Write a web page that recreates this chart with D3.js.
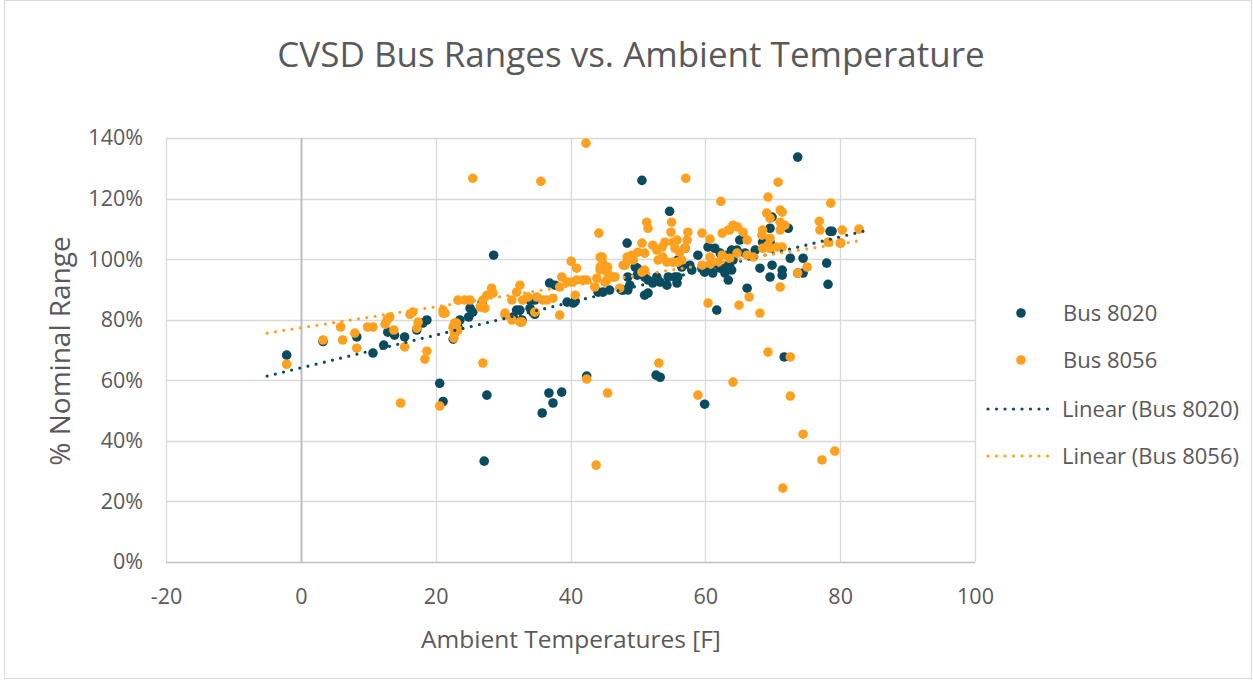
<!DOCTYPE html>
<html>
<head>
<meta charset="utf-8">
<script src="https://cdn.jsdelivr.net/npm/d3@7"></script>
<style>
  body { margin: 0; background: #fff; }
  text { font-family: "Segoe UI", "Open Sans", "Noto Sans", sans-serif; fill: #595959; }
</style>
</head>
<body>
<div id="chart"></div>
<script>
// data: [temperature F, % nominal range]
var bus8020 = [
  [-2.1,68.3],[3.3,72.8],[8.3,74.3],[10.7,69],[12.3,71.6],[12.9,75.9],[13.9,74.9],[15.4,74.3],[17.2,76.6],
  [18.1,78.9],[18.7,79.9],[20.6,59],[21.1,53],[22.6,73.6],[22.8,75.6],[23.3,77.6],[23.6,79.9],[24.9,80.9],
  [25.1,83.8],[25.5,82.5],[26.9,85.8],[27.2,33.3],[27.6,55.1],[28.6,101.3],[31.5,80.9],[32.0,83.2],[32.5,83.2],
  [32.8,79.9],[34.0,86.5],[34.7,86.5],[34.0,83.8],[34.4,82.5],[34.7,81.8],[35.8,49.2],[36.8,55.8],[36.9,92.1],
  [37.4,52.5],[37.7,91.4],[38.7,56.1],[39.5,85.8],[40.4,85.5],[40.7,86.1],[42.4,61.4],[44.1,89.1],[44.8,89.1],
  [45.8,89.8],[47.6,89.8],[47.8,89.8],[48.4,105.3],[48.5,94.1],[48.5,89.8],[48.8,91.4],[49.6,97.4],[49.9,94.7],
  [49.9,97],[50.6,126],[51.0,94.1],[51.0,88.1],[51.5,93.1],[51.5,88.8],[52.2,92.1],[52.7,61.7],[53.3,61],
  [52.8,94.1],[53.3,92.4],[54.3,91.4],[54.5,94.1],[54.7,115.8],[55.5,94.1],[55.8,92.1],[55.9,94.1],[55.9,99.7],
  [56.5,97.4],[57.0,103.6],[57.7,98],[58.0,96.4],[58.9,101.3],[59.5,97],[59.9,95.7],[59.9,52.1],[60.4,104],
  [60.7,97.4],[61.1,95.4],[61.4,103.6],[61.7,83.2],[62.2,102],[62.2,97],[62.9,95.4],[63.2,101.3],[63.4,98],
  [63.4,93.1],[63.6,97.4],[63.9,103],[63.9,96.4],[64.1,99.7],[64.7,103],[65.1,106.3],[65.6,106.9],[65.9,102],
  [66.2,90.4],[67.4,103],[68.1,97],[68.5,105.6],[69.6,110.2],[69.6,105.6],[69.6,94.1],[69.9,113.9],[69.9,98],
  [71.4,96.4],[71.4,94.7],[71.7,67.7],[72.3,110.2],[72.6,100.3],[73.7,133.7],[73.7,95.4],[74.5,100.3],[74.5,95.4],
  [78.0,98.7],[78.2,91.7],[78.5,109.2],[78.8,109.2]
];
var bus8056 = [
  [-2.1,65.3],[3.3,73.3],[5.9,77.6],[6.2,73.3],[8.0,75.6],[8.3,70.6],[9.9,77.6],[10.7,77.6],[12.5,78.5],
  [12.8,79.9],[13.2,80.9],[13.8,76.6],[14.8,52.5],[15.4,71],[16.2,81.8],[16.6,82.5],[17.2,77.2],[17.4,79.2],
  [18.4,67],[18.7,69.6],[20.6,51.5],[21.1,82.2],[21.1,83.2],[21.4,82.2],[22.6,77.6],[22.6,77.2],[22.7,73.9],
  [22.8,75.6],[22.8,78.9],[23.1,78.9],[23.3,76.6],[23.3,86.5],[24.3,86.5],[25.1,86.5],[25.5,126.7],[26.6,84.2],
  [27.0,86.5],[27.0,65.7],[27.3,83.8],[27.6,88.1],[28.3,90.4],[28.5,88.8],[30.3,81.5],[30.3,82.2],[31.3,79.9],
  [31.3,86.5],[32.0,89.1],[32.5,91.4],[32.5,79.2],[32.8,79.2],[32.9,86.5],[33.7,87.5],[34.7,82.5],[35.0,87.5],
  [35.6,125.7],[35.9,86.5],[36.5,86.5],[37.4,87.1],[38.4,90.8],[38.4,81.5],[38.7,94.1],[39.5,92.4],[40.1,99.3],
  [40.2,92.4],[40.7,88.1],[40.9,93.1],[40.9,97],[41.8,93.1],[42.3,138.3],[42.4,93.1],[42.4,60.4],[43.6,90.8],
  [43.8,32],[43.9,93.7],[44.2,108.6],[44.4,100.7],[44.4,96.4],[44.4,97.4],[44.7,100.7],[44.8,98.7],[45.1,92.4],
  [45.4,93.1],[45.5,97.4],[45.5,95.4],[45.5,55.8],[46.3,94.1],[46.6,94.1],[47.3,90.4],[47.8,98],[48.1,98],
  [48.4,100.7],[48.5,99.7],[49.1,101.3],[49.3,99.7],[50.0,102.3],[50.6,105.3],[50.6,95.7],[51.0,102],[51.0,96.4],
  [51.3,112.2],[51.5,110.2],[52.2,104.6],[52.8,103],[53.0,99.7],[53.1,65.7],[53.6,104],[53.7,100.7],[54.0,105.6],
  [54.3,99],[54.9,108.9],[55.0,112.2],[55.2,105.6],[55.2,99],[55.5,103.6],[55.8,106.3],[55.9,99],[56.2,102.3],
  [56.5,99.7],[57.0,103.6],[57.1,126.7],[57.3,106.3],[57.4,108.9],[58.9,55.1],[59.5,108.6],[59.5,98],[60.4,85.5],
  [60.7,106.6],[60.7,100.7],[60.7,98.3],[61.9,99],[62.3,119.1],[62.5,108.6],[62.5,101.3],[63.4,109.6],[63.6,100.3],
  [63.6,109.6],[64.1,111.2],[64.1,59.4],[64.7,102],[64.8,110.6],[65.0,84.8],[65.6,108.9],[66.2,106.3],[66.2,101.3],
  [66.5,87.5],[67.1,100.7],[68.1,82.2],[68.4,107.9],[68.5,109.6],[68.5,103.6],[69.1,115.2],[69.3,120.5],[69.3,104.6],
  [69.3,69.3],[69.6,113.5],[69.6,106.9],[69.6,103.6],[70.6,104],[70.8,125.4],[71.1,116.2],[71.1,112.2],[71.1,109.6],
  [71.1,90.8],[71.4,115.5],[71.4,104],[71.5,24.4],[71.8,111.2],[72.6,67.7],[72.6,54.8],[73.7,95.4],[74.5,42.2],
  [75.1,97.4],[76.9,112.5],[77.0,109.6],[77.3,33.7],[78.2,105.6],[78.3,105.6],[78.6,118.5],[79.2,36.6],[80.0,105.3],
  [80.1,105.3],[80.3,109.6],[82.8,109.9]
];
// trendline end points as drawn in the picture
var trend8020 = [[-5,61.4],[83.4,109.2]];
var trend8056 = [[-5,75.6],[83.5,106.3]];

var xTicks = [-20, 0, 20, 40, 60, 80, 100];
var yTicks = [0, 20, 40, 60, 80, 100, 120, 140];
var seriesNames = ["Bus 8020", "Bus 8056", "Linear (Bus 8020)", "Linear (Bus 8056)"];
var darkCol = "#0A4B5F", orangeCol = "#FFA11F";

var W = 1253, H = 683;
var margin = {top: 138, right: 278, bottom: 121, left: 166};
var width = W - margin.left - margin.right,
    height = H - margin.top - margin.bottom;

var svg = d3.select("#chart").append("svg")
  .attr("width", W).attr("height", H);

// chart border
svg.append("rect")
  .attr("x", 4.5).attr("y", 0.5)
  .attr("width", W - 6).attr("height", H - 5)
  .attr("fill", "none").attr("stroke", "#d9d9d9");

var g = svg.append("g")
  .attr("transform", "translate(" + margin.left + "," + margin.top + ")");

var x = d3.scaleLinear().domain([-20, 100]).range([0, width]);
var y = d3.scaleLinear().domain([0, 140]).range([height, 0]);

// gridlines
g.append("g").selectAll("line").data(yTicks).enter().append("line")
  .attr("x1", 0).attr("x2", width)
  .attr("y1", function(d){ return Math.round(y(d)) + 0.5; })
  .attr("y2", function(d){ return Math.round(y(d)) + 0.5; })
  .attr("stroke", function(d){ return d == 0 ? "#bfbfbf" : "#d9d9d9"; })
  .attr("stroke-width", 1.3);
g.append("g").selectAll("line").data(xTicks).enter().append("line")
  .attr("y1", 0).attr("y2", height)
  .attr("x1", function(d){ return Math.round(x(d)) + 0.5; })
  .attr("x2", function(d){ return Math.round(x(d)) + 0.5; })
  .attr("stroke", function(d){ return d == 0 ? "#bfbfbf" : "#d9d9d9"; })
  .attr("stroke-width", function(d){ return d == 0 ? 2 : 1.3; });

// axes (labels only)
var yAxis = g.append("g")
  .call(d3.axisLeft(y).tickValues(yTicks).tickSize(0).tickPadding(23)
    .tickFormat(function(d){ return d + "%"; }));
var xAxis = g.append("g")
  .attr("transform", "translate(0," + height + ")")
  .call(d3.axisBottom(x).tickValues(xTicks).tickSize(0).tickPadding(27));
[yAxis, xAxis].forEach(function(a){
  a.select(".domain").remove();
  a.selectAll("text").attr("font-size", "21.5px")
    .attr("font-family", "'Segoe UI','Open Sans',sans-serif").attr("fill", "#595959");
});
xAxis.selectAll("text").text(function(d){ return d < 0 ? "-" + Math.abs(d) : d; });

// points
g.append("g").selectAll("circle").data(bus8020).enter().append("circle")
  .attr("cx", function(d){ return x(d[0]); })
  .attr("cy", function(d){ return y(d[1]); })
  .attr("r", 4.8).attr("fill", darkCol);
g.append("g").selectAll("circle").data(bus8056).enter().append("circle")
  .attr("cx", function(d){ return x(d[0]); })
  .attr("cy", function(d){ return y(d[1]); })
  .attr("r", 4.8).attr("fill", orangeCol);

// trendlines
var line = d3.line().x(function(d){ return x(d[0]); }).y(function(d){ return y(d[1]); });
[[trend8020, darkCol], [trend8056, orangeCol]].forEach(function(t){
  g.append("path").datum(t[0]).attr("d", line)
    .attr("fill", "none").attr("stroke", t[1])
    .attr("stroke-width", 3.2).attr("stroke-linecap", "round")
    .attr("stroke-dasharray", "0 8.4");
});

// titles
svg.append("text").attr("x", 631).attr("y", 67).attr("text-anchor", "middle")
  .attr("font-size", "35px").text("CVSD Bus Ranges vs. Ambient Temperature");
svg.append("text").attr("transform", "translate(70,351) rotate(-90)")
  .attr("text-anchor", "middle").attr("font-size", "28px").text("% Nominal Range");
svg.append("text").attr("x", 571).attr("y", 648).attr("text-anchor", "middle")
  .attr("font-size", "24.5px").text("Ambient Temperatures [F]");

// legend
var legY = [313, 360, 409, 456];
var leg = svg.append("g");
leg.append("circle").attr("cx", 1021).attr("cy", legY[0]).attr("r", 4.8).attr("fill", darkCol);
leg.append("circle").attr("cx", 1021).attr("cy", legY[1]).attr("r", 4.8).attr("fill", orangeCol);
[darkCol, orangeCol].forEach(function(c, i){
  leg.append("line").attr("x1", 988).attr("x2", 1056)
    .attr("y1", legY[2 + i]).attr("y2", legY[2 + i])
    .attr("stroke", c).attr("stroke-width", 3.2)
    .attr("stroke-linecap", "round").attr("stroke-dasharray", "0 8.5");
});
seriesNames.forEach(function(n, i){
  leg.append("text").attr("x", i < 2 ? 1063 : 1062).attr("y", legY[i])
    .attr("dy", "0.35em").attr("font-size", "22px").text(n);
});
</script>
</body>
</html>
